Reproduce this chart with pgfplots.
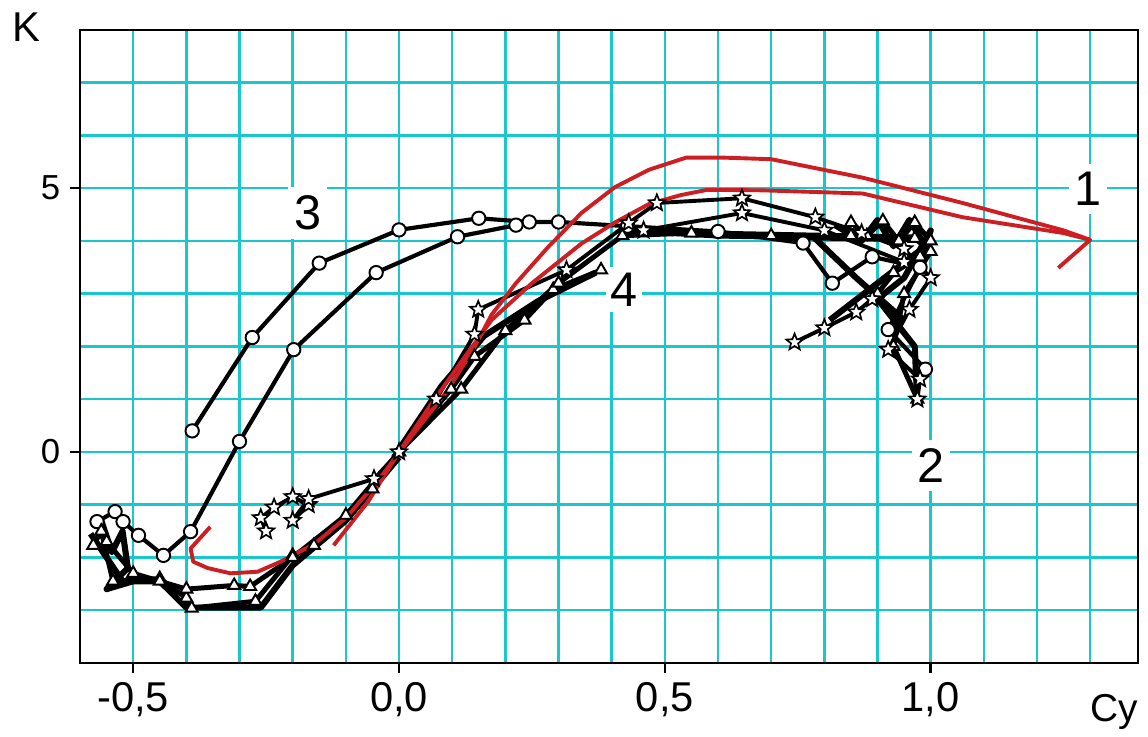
\documentclass[border=0pt]{standalone}
\usepackage{pgfplots}
\pgfplotsset{compat=1.18}
\usepackage{fontspec}
\setmainfont{Liberation Sans}
\definecolor{gridcyan}{RGB}{25,200,205}
\definecolor{redline}{RGB}{205,30,35}
\pgfdeclareplotmark{ostar}{%
  \pgfpathmoveto{\pgfpointpolar{90}{1.15\pgfplotmarksize}}%
  \pgfpathlineto{\pgfpointpolar{126}{0.5\pgfplotmarksize}}%
  \pgfpathlineto{\pgfpointpolar{162}{1.15\pgfplotmarksize}}%
  \pgfpathlineto{\pgfpointpolar{198}{0.5\pgfplotmarksize}}%
  \pgfpathlineto{\pgfpointpolar{234}{1.15\pgfplotmarksize}}%
  \pgfpathlineto{\pgfpointpolar{270}{0.5\pgfplotmarksize}}%
  \pgfpathlineto{\pgfpointpolar{306}{1.15\pgfplotmarksize}}%
  \pgfpathlineto{\pgfpointpolar{342}{0.5\pgfplotmarksize}}%
  \pgfpathlineto{\pgfpointpolar{18}{1.15\pgfplotmarksize}}%
  \pgfpathlineto{\pgfpointpolar{54}{0.5\pgfplotmarksize}}%
  \pgfpathclose
  \pgfusepathqfillstroke
}
\pgfplotsset{
  s3/.style={black, line width=1.5pt, mark=*, mark size=2.4pt, mark options={fill=white, line width=0.7pt, solid}},
  s2/.style={black, line width=1.4pt, mark=ostar, mark size=2.7pt, mark options={fill=white, line width=0.6pt, solid}},
  s4/.style={black, line width=1.8pt, mark=triangle*, mark size=2.5pt, mark options={fill=white, line width=0.7pt, solid}},
  sb/.style={black, line width=2.2pt, no marks, line join=round},
  sr/.style={redline, line width=1.4pt, no marks, line join=round},
}
\begin{document}
\begin{tikzpicture}
\useasboundingbox (-28.8pt,-26.64pt) rectangle (384.48pt,238.68pt);
\begin{axis}[
  at={(0,0)}, anchor=south west,
  scale only axis, width=380.9pt, height=227.9pt,
  xmin=-0.6, xmax=1.39, ymin=-4, ymax=8,
  xtick={-0.5,0,0.5,1}, xticklabels={{-0,5},{0,0},{0,5},{1,0}},
  ytick={0,5}, yticklabels={0,5},
  minor xtick={-0.4,-0.3,-0.2,-0.1,0.1,0.2,0.3,0.4,0.6,0.7,0.8,0.9,1.1,1.2,1.3},
  minor ytick={-3,-2,-1,1,2,3,4,6,7},
  grid=both,
  major grid style={draw=gridcyan, line width=0.9pt},
  minor grid style={draw=gridcyan, line width=0.9pt},
  tick align=outside, major tick length=3.6pt, minor tick length=0pt,
  tick pos=left,
  axis line style={line width=1pt},
  tick style={black, line width=0.9pt},
  xticklabel style={font=\fontsize{15}{17}\selectfont},
  yticklabel style={font=\fontsize{12.5}{14}\selectfont},
  clip=true,
]
% dense black bands (overlapping runs)
\addplot[sb] coordinates {(-0.58,-1.55) (-0.55,-2.00) (-0.52,-2.45) (-0.45,-2.45) (-0.40,-2.95) (-0.26,-2.95) (-0.20,-2.15) (-0.10,-1.30) (0.0,-0.10)};
\addplot[sb] coordinates {(-0.56,-1.30) (-0.54,-1.90) (-0.52,-1.50) (-0.51,-2.20) (-0.55,-2.60) (-0.50,-2.45)};
\addplot[sb] coordinates {(0.0,0.05) (0.08,1.25) (0.16,2.20) (0.26,2.85) (0.37,3.40)};
\addplot[black, line width=2.8pt, no marks] coordinates {(0.42,4.22) (0.60,4.12) (0.80,4.08) (0.97,4.05)};
\addplot[sb] coordinates {(0.82,4.30) (0.87,4.00) (0.90,4.40) (0.93,3.90) (0.96,4.40) (0.99,3.90) (1.0,4.20) (0.95,3.30) (0.90,2.90) (0.97,2.00) (0.975,0.90)};
\addplot[sb] coordinates {(0.78,4.07) (0.86,3.30) (0.95,2.50)};
\addplot[sb] coordinates {(0.81,2.50) (0.90,3.20) (0.99,3.90)};
% series 3 (circles)
\addplot[s3] coordinates {(-0.389,0.40) (-0.276,2.17) (-0.15,3.58) (0.0,4.21) (0.15,4.43) (0.245,4.36) (0.30,4.36) (0.43,4.28)};
\addplot[s3] coordinates {(-0.568,-1.32) (-0.534,-1.13) (-0.519,-1.32) (-0.49,-1.58) (-0.443,-1.96) (-0.392,-1.51) (-0.30,0.20) (-0.198,1.94) (-0.043,3.40) (0.11,4.08) (0.22,4.30)};
\addplot[s3] coordinates {(0.43,4.28) (0.60,4.18) (0.76,3.96) (0.815,3.20) (0.89,3.70) (0.98,3.50) (0.92,2.32) (0.99,1.57)};
% series 4 (triangles)
\addplot[s4] coordinates {(-0.575,-1.77) (-0.56,-1.50) (-0.538,-2.45) (-0.45,-2.40) (-0.40,-2.77) (-0.39,-2.96) (-0.27,-2.83) (-0.20,-1.96) (-0.16,-1.77) (-0.05,-0.70) (0.0,0.0) (0.098,1.19) (0.142,1.81) (0.236,2.50) (0.29,3.08) (0.38,3.45)};
\addplot[s4] coordinates {(-0.55,-1.70) (-0.50,-2.30) (-0.45,-2.45) (-0.40,-2.60) (-0.31,-2.53) (-0.28,-2.55) (-0.20,-2.00) (-0.10,-1.20) (0.0,0.0) (0.117,1.19) (0.20,2.30) (0.30,3.20) (0.42,4.10) (0.55,4.15) (0.70,4.10) (0.85,4.10) (0.97,4.05) (1.0,3.80) (0.95,3.00) (0.93,2.00) (0.975,1.00)};
\addplot[s4] coordinates {(0.85,4.35) (0.88,4.10) (0.91,4.38) (0.94,4.00) (0.97,4.35) (1.0,4.00) (0.98,3.70) (0.93,3.40) (0.90,3.00)};
% series 2 (stars)
\addplot[s2] coordinates {(-0.25,-1.50) (-0.26,-1.25) (-0.235,-1.05) (-0.20,-0.85) (-0.17,-1.00) (-0.20,-1.30) (-0.17,-0.89) (-0.047,-0.51) (0.0,0.0) (0.07,1.0) (0.142,2.23) (0.149,2.70) (0.315,3.45) (0.432,4.34) (0.485,4.72) (0.645,4.81) (0.783,4.45) (0.87,4.15) (0.95,3.85) (1.0,3.30) (0.96,2.70) (0.92,1.94) (0.98,1.38) (0.975,1.0)};
\addplot[s2] coordinates {(0.46,4.20) (0.645,4.53) (0.80,4.20) (0.95,3.60) (0.89,2.90) (0.86,2.65) (0.80,2.35) (0.744,2.08)};
% series 1 (red)
\addplot[sr] coordinates {(-0.355,-1.42) (-0.392,-1.83) (-0.387,-2.08) (-0.36,-2.20) (-0.317,-2.30) (-0.266,-2.27) (-0.223,-2.08) (-0.16,-1.75) (-0.10,-1.25) (-0.04,-0.55) (0.02,0.25) (0.09,1.15) (0.14,1.95) (0.174,2.60) (0.22,3.20) (0.281,3.89) (0.343,4.53) (0.406,5.02) (0.47,5.35) (0.54,5.58) (0.61,5.58) (0.70,5.55) (0.872,5.20) (1.06,4.72) (1.25,4.20) (1.30,4.02) (1.24,3.49)};
\addplot[sr] coordinates {(1.30,4.02) (1.25,4.15) (1.06,4.45) (0.872,4.90) (0.683,4.96) (0.58,4.97) (0.53,4.87) (0.47,4.70) (0.406,4.35) (0.343,3.95) (0.25,3.20) (0.174,2.50) (0.12,1.75) (0.06,0.90) (0.0,0.0) (-0.058,-0.94) (-0.123,-1.77)};
% curve numbers
\node[fill=white, inner xsep=2pt, inner ysep=3pt, font=\fontsize{17.5}{19}\selectfont] at (axis cs:1.296,4.98) {1};
\node[fill=white, inner xsep=2pt, inner ysep=3pt, font=\fontsize{17.5}{19}\selectfont] at (axis cs:1.0,-0.26) {2};
\node[fill=white, inner xsep=2pt, inner ysep=3pt, font=\fontsize{17.5}{19}\selectfont] at (axis cs:-0.172,4.53) {3};
\node[fill=white, inner xsep=1.5pt, inner ysep=2pt, font=\fontsize{17.5}{19}\selectfont] at (axis cs:0.423,3.08) {4};
\end{axis}
\node[font=\fontsize{15}{17}\selectfont] at (-19.3pt,228.8pt) {K};
\node[anchor=base, font=\fontsize{14}{16}\selectfont] at (372.2pt,-21.2pt) {Cy};
\end{tikzpicture}
\end{document}
